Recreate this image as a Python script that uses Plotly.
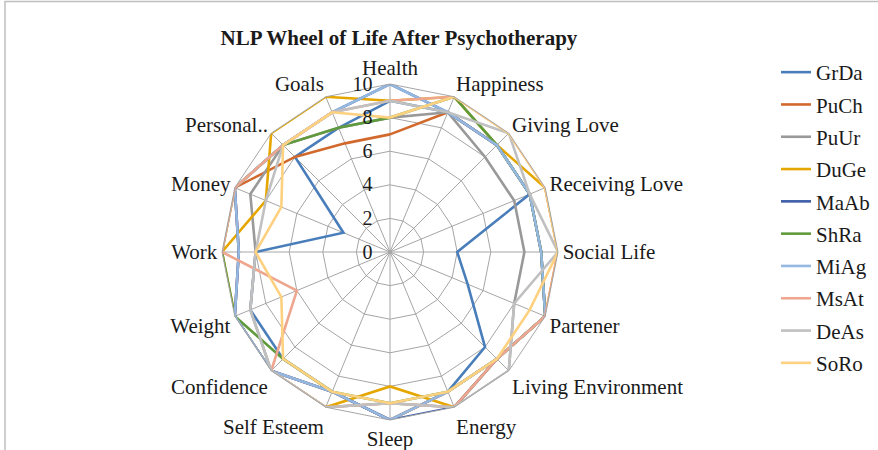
import plotly.graph_objects as go

categories = ["Health", "Happiness", "Giving Love", "Receiving Love", "Social Life",
              "Partener", "Living Environment", "Energy", "Sleep", "Self Esteem",
              "Confidence", "Weight", "Work", "Money", "Personal..", "Goals"]

GrDa = [9, 9, 9, 9, 4, 5, 8, 9, 10, 9, 9, 9, 8, 3, 8, 8]
PuCh = [7, 9, 9, 9, 9, 10, 9, 9, 10, 9, 10, 10, 9, 10, 8, 7]
PuUr = [8, 9, 8, 8, 8, 8, 10, 10, 9, 10, 10, 9, 8, 9, 9, 8]
DuGe = [9, 10, 9, 10, 10, 10, 9, 10, 8, 10, 10, 10, 10, 8, 10, 10]
MaAb = [10, 9, 9, 9, 9, 10, 9, 10, 10, 9, 10, 10, 9, 10, 9, 9]
ShRa = [8, 10, 9, 9, 9, 10, 9, 9, 9, 9, 9, 10, 10, 10, 9, 8]
MiAg = [10, 9, 9, 9, 9, 10, 9, 9, 10, 9, 10, 10, 9, 10, 9, 9]
MsAt = [9, 10, 10, 10, 10, 10, 9, 10, 9, 10, 10, 6, 10, 10, 9, 9]
DeAs = [9, 9, 10, 9, 10, 8, 10, 10, 9, 10, 10, 9, 8, 8, 9, 9]
SoRo = [8, 10, 10, 10, 10, 9, 9, 9, 9, 9, 9, 7, 8, 7, 9, 9]

series_names = ["GrDa", "PuCh", "PuUr", "DuGe", "MaAb", "ShRa", "MiAg", "MsAt", "DeAs", "SoRo"]
series_values = [GrDa, PuCh, PuUr, DuGe, MaAb, ShRa, MiAg, MsAt, DeAs, SoRo]
colors = ["#4a7ebb", "#d2692c", "#999999", "#e5a600", "#3e5ea8",
          "#5f9a3c", "#95b8e0", "#eea68e", "#c0c0c0", "#fdd17f"]

radial_ticks = [0, 2, 4, 6, 8, 10]

FONT = "Liberation Serif, Times New Roman, serif"

fig = go.Figure()
for name, vals, col in zip(series_names, series_values, colors):
    fig.add_trace(go.Scatterpolar(
        r=vals + vals[:1],
        theta=categories + categories[:1],
        mode="lines",
        name=name,
        legendgroup=name,
        line=dict(color=col, width=2.6),
    ))

cx, cy, R = 390, 252, 168
W, H = 878, 450

fig.update_layout(
    width=W, height=H,
    margin=dict(l=0, r=0, t=0, b=0),
    paper_bgcolor="white",
    plot_bgcolor="white",
    font=dict(family=FONT, size=21, color="#1a1a1a"),
    title=dict(text="<b>NLP Wheel of Life After Psychotherapy</b>",
               x=399 / W, xanchor="center", y=1 - 38 / H, yanchor="middle",
               font=dict(family=FONT, size=21, color="#1a1a1a")),
    showlegend=True,
    legend=dict(x=776 / W, xanchor="left", y=1 - 52 / H, yanchor="top",
                traceorder="grouped", tracegroupgap=2,
                font=dict(family=FONT, size=21, color="#1a1a1a"),
                bgcolor="rgba(0,0,0,0)"),
    polar=dict(
        domain=dict(x=[(cx - R) / W, (cx + R) / W], y=[(H - cy - R) / H, (H - cy + R) / H]),
        bgcolor="white",
        gridshape="linear",
        angularaxis=dict(
            direction="clockwise", rotation=90,
            showline=True, linecolor="#a6a6a6", linewidth=1,
            showgrid=True, gridcolor="#a6a6a6", gridwidth=1,
            ticks="", tickfont=dict(family=FONT, size=21, color="#1a1a1a"),
        ),
        radialaxis=dict(
            range=[0, 10], tickvals=radial_ticks, ticktext=[str(t) for t in radial_ticks],
            angle=90, tickangle=90, side="counterclockwise",
            showline=False, ticks="outside", ticklen=10, tickcolor="rgba(0,0,0,0)",
            showgrid=True, gridcolor="#a6a6a6", gridwidth=1,
            tickfont=dict(family=FONT, size=20, color="#1a1a1a"),
        ),
    ),
    shapes=[dict(type="rect", xref="paper", yref="paper",
                 x0=5 / W, x1=1.02, y0=-0.05, y1=1 - 1.5 / H,
                 line=dict(color="#bfbfbf", width=1.5), fillcolor="rgba(0,0,0,0)")],
)

fig.write_html("out.html", config={"displayModeBar": False},
               post_script="document.body.style.margin='0';")
